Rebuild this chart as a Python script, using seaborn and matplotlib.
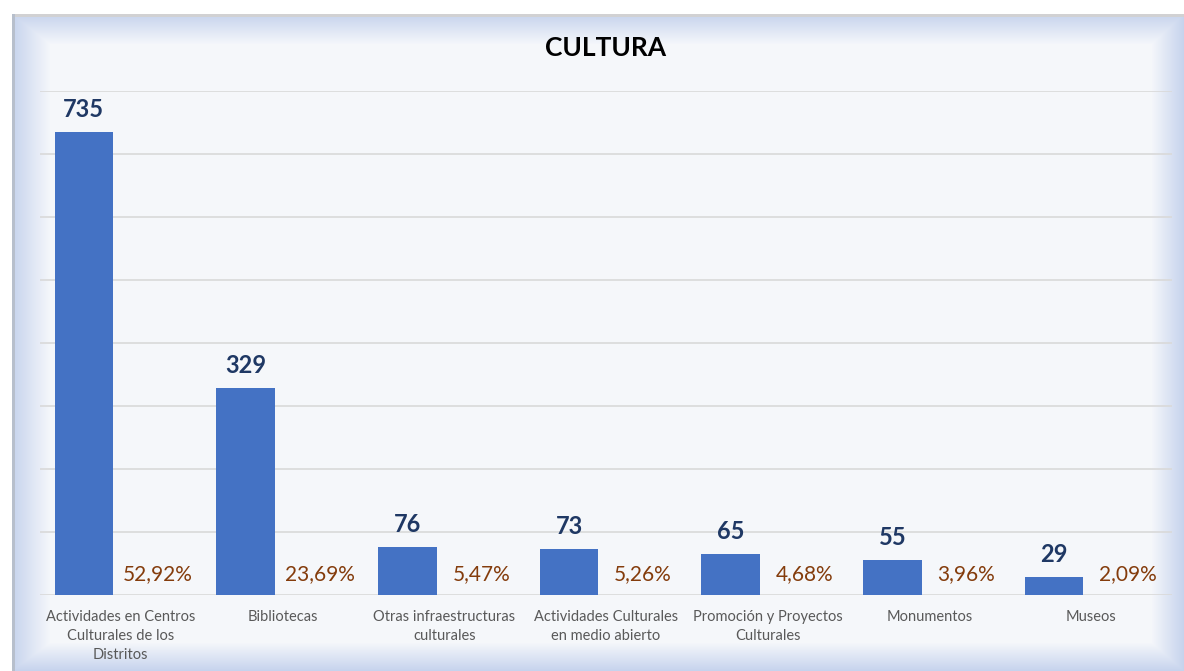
import numpy as np
import pandas as pd
import matplotlib
matplotlib.use("Agg")
import matplotlib.pyplot as plt
import seaborn as sns

# Datos del gráfico
categorias = [
    "Actividades en Centros\nCulturales de los\nDistritos",
    "Bibliotecas",
    "Otras infraestructuras\nculturales",
    "Actividades Culturales\nen medio abierto",
    "Promoción y Proyectos\nCulturales",
    "Monumentos",
    "Museos",
]
totales = [735, 329, 76, 73, 65, 55, 29]
porcentajes = [52.92, 23.69, 5.47, 5.26, 4.68, 3.96, 2.09]

sns.set_theme(style="white")
plt.rcParams['font.family'] = ['Lato', 'DejaVu Sans']

# tabla larga: la serie "Porcentaje" solo sirve para reservar el hueco de la etiqueta
df = pd.DataFrame({
    "categoria": categorias * 2,
    "serie": ["Total"] * len(categorias) + ["Porcentaje"] * len(categorias),
    "valor": totales + [0] * len(categorias),
})

W, H = 1184, 671
fig = plt.figure(figsize=(W / 100, H / 100), dpi=100, facecolor="white")

# fondo con marco degradado
bg = fig.add_axes([12 / W, 0, (W - 12) / W, (H - 14) / H])
bg.set_axis_off()
h, w = H - 14, W - 12
yy, xx = np.mgrid[0:h, 0:w]
d = np.minimum.reduce([xx / 38.0, yy / 30.0, (w - 1 - xx) / 32.0, (h - 1 - yy) / 28.0])
t = np.clip(d, 0, 1)[..., None]
edge = np.array([0.78, 0.83, 0.93])
inner = np.array([0.961, 0.969, 0.984])
img = edge * (1 - t) + inner * t
img[:3, :, :] = [0.82, 0.82, 0.83]
img[:, :3, :] = [0.72, 0.75, 0.80]
bg.imshow(img, aspect="auto", extent=[0, 1, 0, 1], interpolation="bilinear")
bg.set_xlim(0, 1)
bg.set_ylim(0, 1)

ax = fig.add_axes([40 / W, (H - 595) / H, (1172 - 40) / W, 504 / H])
ax.patch.set_alpha(0)

sns.barplot(
    data=df, x="categoria", y="valor", hue="serie",
    hue_order=["Total", "Porcentaje"],
    palette=["#4472C4", "#4472C4"], saturation=1,
    width=0.915, gap=0.21, errorbar=None, legend=False,
    linewidth=0, ax=ax,
)

ax.set_ylim(0, 800)
ax.set_yticks(range(0, 801, 100))
ax.yaxis.grid(True, color="#D9D9D9", linewidth=1.2)
ax.set_axisbelow(True)
ax.tick_params(axis="y", left=False, labelleft=False)
ax.tick_params(axis="x", bottom=False, pad=5)
for s in ax.spines.values():
    s.set_visible(False)
ax.set_xlabel("")
ax.set_ylabel("")
for lbl in ax.get_xticklabels():
    lbl.set_fontsize(10.5)
    lbl.set_color("#595959")
    lbl.set_linespacing(1.45)

# etiquetas de valores
for bar, v in zip(ax.containers[0], totales):
    ax.annotate(str(v), (bar.get_x() + bar.get_width() / 2, bar.get_height()),
                xytext=(0, 8), textcoords="offset points",
                ha="center", va="bottom", fontsize=17, fontweight="bold",
                color="#1F3864")

for bar, p in zip(ax.containers[1], porcentajes):
    txt = f"{p:.2f}".replace(".", ",") + "%"
    ax.annotate(txt, (bar.get_x() + bar.get_width() / 2, 0),
                xytext=(0, 15), textcoords="offset points",
                ha="center", va="center", fontsize=15, color="#843C0C")

ax.text(0.5, 1.085, "CULTURA", transform=ax.transAxes, ha="center", va="center",
        fontsize=19, fontweight="bold", color="black")

fig.savefig("out.png", dpi=100, facecolor="white")
plt.close(fig)
